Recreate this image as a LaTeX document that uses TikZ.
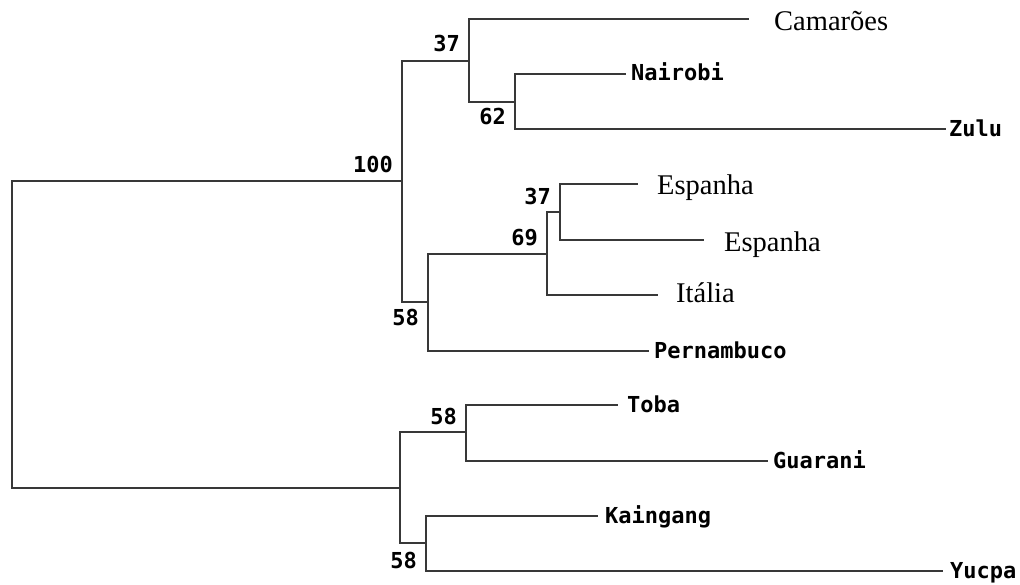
\documentclass[tikz,border=0pt]{standalone}
\usepackage{fontspec}
\setmainfont{Liberation Serif}
\newfontfamily\monob{DejaVu Sans Mono}
\begin{document}
\begin{tikzpicture}[x=1pt, y=-1pt,
  branch/.style={draw=black!78, line width=2pt, line cap=rect},
  serifleaf/.style={font=\fontsize{28.5}{30}\selectfont, inner sep=0pt, anchor=base west},
  monoleaf/.style={font=\monob\bfseries\fontsize{22}{24}\selectfont, inner sep=0pt, anchor=base west},
  support/.style={font=\monob\bfseries\fontsize{22}{24}\selectfont, inner sep=0pt, anchor=base east}]
\useasboundingbox (0,0) rectangle (1020,585);

% internal nodes (junction points)
\coordinate (R) at (12,335);
\coordinate (A) at (402,181);
\coordinate (B) at (469,61);
\coordinate (C) at (515,102);
\coordinate (D) at (428,302);
\coordinate (E) at (547,254);
\coordinate (F) at (560,212);
\coordinate (G) at (400,488);
\coordinate (H) at (466,432);
\coordinate (I) at (426,543);

% branch tips
\coordinate (cam) at (748,19);
\coordinate (nai) at (625,74);
\coordinate (zul) at (945,129);
\coordinate (esp1) at (637,184);
\coordinate (esp2) at (703,240);
\coordinate (ita) at (657,295);
\coordinate (per) at (648,351);
\coordinate (tob) at (617,405);
\coordinate (gua) at (767,461);
\coordinate (kai) at (597,516);
\coordinate (yuc) at (942,571);

% tree
\draw[branch] (R) |- (A);
\draw[branch] (R) |- (G);
\draw[branch] (A) |- (B);
\draw[branch] (A) |- (D);
\draw[branch] (B) |- (cam);
\draw[branch] (B) |- (C);
\draw[branch] (C) |- (nai);
\draw[branch] (C) |- (zul);
\draw[branch] (D) |- (E);
\draw[branch] (D) |- (per);
\draw[branch] (E) |- (F);
\draw[branch] (E) |- (ita);
\draw[branch] (F) |- (esp1);
\draw[branch] (F) |- (esp2);
\draw[branch] (G) |- (H);
\draw[branch] (G) |- (I);
\draw[branch] (H) |- (tob);
\draw[branch] (H) |- (gua);
\draw[branch] (I) |- (kai);
\draw[branch] (I) |- (yuc);

% taxon labels
\node[serifleaf] (tcam) at (774,31) {Camarões};
\node[monoleaf] (tnai) at (631,81) {Nairobi};
\node[monoleaf] (tzul) at (949,137) {Zulu};
\node[serifleaf] (tesp1) at (657,195) {Espanha};
\node[serifleaf] (tesp2) at (724,252) {Espanha};
\node[serifleaf] (tita) at (676,303) {Itália};
\node[monoleaf] (tper) at (654,358) {Pernambuco};
\node[monoleaf] (ttob) at (627,412) {Toba};
\node[monoleaf] (tgua) at (773,468) {Guarani};
\node[monoleaf] (tkai) at (605,523) {Kaingang};
\node[monoleaf] (tyuc) at (950,578) {Yucpa};

% bootstrap support values
\node[support] (sA) at (393,173) {100};
\node[support] (sB) at (460,52) {37};
\node[support] (sC) at (506,125) {62};
\node[support] (sD) at (419,326) {58};
\node[support] (sE) at (538,246) {69};
\node[support] (sF) at (551,205) {37};
\node[support] (sH) at (457,424) {58};
\node[support] (sI) at (417,568) {58};
\end{tikzpicture}
\end{document}
